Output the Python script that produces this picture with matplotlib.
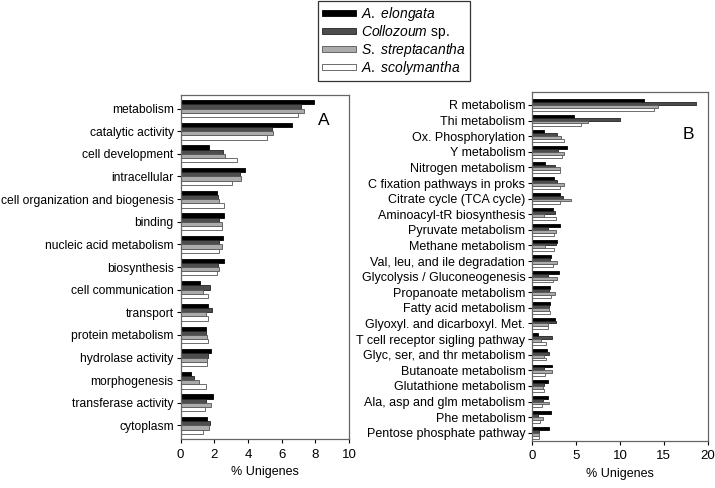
import numpy as np
import matplotlib
matplotlib.use("Agg")
import matplotlib.pyplot as plt

plt.rcParams['font.family'] = ['Liberation Sans', 'DejaVu Sans']
plt.rcParams['mathtext.fontset'] = 'custom'
plt.rcParams['mathtext.it'] = 'Liberation Sans:italic'
plt.rcParams['mathtext.rm'] = 'Liberation Sans'

species = [r"$\it{A.\ elongata}$", r"$\it{Collozoum}$ sp.",
           r"$\it{S.\ streptacantha}$", r"$\it{A.\ scolymantha}$"]
colors = ["#000000", "#4d4d4d", "#ababab", "#ffffff"]
edges = ["#000000", "#222222", "#555555", "#555555"]

cats_a = ["metabolism", "catalytic activity", "cell development", "intracellular",
          "cell organization and biogenesis", "binding", "nucleic acid metabolism",
          "biosynthesis", "cell communication", "transport", "protein metabolism",
          "hydrolase activity", "morphogenesis", "transferase activity", "cytoplasm"]
elongata_a = [7.9, 6.6, 1.7, 3.8, 2.15, 2.55, 2.5, 2.6, 1.15, 1.6, 1.5, 1.8, 0.6, 1.9, 1.55]
collozoum_a = [7.15, 5.4, 2.5, 3.55, 2.2, 2.25, 2.25, 2.2, 1.75, 1.85, 1.5, 1.65, 0.8, 1.5, 1.75]
strept_a = [7.3, 5.5, 2.65, 3.6, 2.3, 2.45, 2.45, 2.3, 1.35, 1.5, 1.55, 1.55, 1.1, 1.8, 1.7]
scoly_a = [7.0, 5.1, 3.35, 3.05, 2.55, 2.45, 2.25, 2.15, 1.65, 1.65, 1.6, 1.55, 1.5, 1.45, 1.35]

cats_b = ["R metabolism", "Thi metabolism", "Ox. Phosphorylation", "Y metabolism",
          "Nitrogen metabolism", "C fixation pathways in proks", "Citrate cycle (TCA cycle)",
          "Aminoacyl-tR biosynthesis", "Pyruvate metabolism", "Methane metabolism",
          "Val, leu, and ile degradation", "Glycolysis / Gluconeogenesis",
          "Propanoate metabolism", "Fatty acid metabolism", "Glyoxyl. and dicarboxyl. Met.",
          "T cell receptor sigling pathway", "Glyc, ser, and thr metabolism",
          "Butanoate metabolism", "Glutathione metabolism", "Ala, asp and glm metabolism",
          "Phe metabolism", "Pentose phosphate pathway"]
elongata_b = [12.7, 4.7, 1.3, 4.0, 1.5, 2.5, 3.2, 2.4, 3.1, 2.8, 2.15, 3.0,
              2.0, 2.0, 2.6, 0.7, 1.65, 2.3, 1.75, 1.75, 2.15, 1.9]
collozoum_b = [18.7, 10.0, 2.8, 2.9, 2.6, 2.8, 3.5, 2.6, 1.75, 2.65, 2.05, 1.8,
               1.95, 1.85, 2.7, 2.3, 1.85, 1.35, 1.35, 1.25, 0.6, 0.75]
strept_b = [14.3, 6.3, 3.3, 3.6, 3.2, 3.6, 4.4, 1.3, 2.75, 1.5, 2.85, 2.8,
            2.55, 1.9, 1.75, 0.95, 1.35, 2.3, 1.25, 1.95, 1.2, 0.8]
scoly_b = [13.9, 5.5, 3.6, 3.4, 3.2, 3.1, 3.1, 2.7, 2.45, 2.45, 2.4, 2.4,
           2.1, 2.0, 1.8, 1.6, 1.55, 1.45, 1.35, 1.05, 0.85, 0.8]


def panel(ax, cats, series, xmax, xstep, ylim, letter, lpos, lblsize):
    y = np.arange(len(cats))
    h = 0.185
    bars = []
    for i, vals in enumerate(series):
        b = ax.barh(y - 1.5 * h + i * h, vals, height=h, color=colors[i],
                    edgecolor=edges[i], linewidth=0.6, label=species[i])
        bars.append(b)
    ax.set_yticks(y)
    ax.set_yticklabels(cats, fontsize=lblsize)
    ax.set_ylim(*ylim)
    ax.set_xlim(0, xmax)
    ax.set_xticks(np.arange(0, xmax + 0.1, xstep))
    ax.tick_params(axis='x', labelsize=9.5, length=3, width=0.8)
    ax.tick_params(axis='y', length=3, width=0.8, pad=2)
    ax.set_xlabel("% Unigenes", fontsize=9)
    for s in ax.spines.values():
        s.set_color("#666666")
        s.set_linewidth(0.9)
    ax.text(lpos[0], lpos[1], letter, transform=ax.transAxes, fontsize=12.5,
            va='baseline')
    return bars


fig = plt.figure(figsize=(7.15, 4.88), dpi=100)
ax1 = fig.add_axes([0.2527, 0.0994, 0.2354, 0.7059])
ax2 = fig.add_axes([0.7445, 0.0963, 0.2453, 0.7158])

bars = panel(ax1, cats_a, [elongata_a, collozoum_a, strept_a, scoly_a],
             10, 2, (14.62, -0.6), "A", (0.816, 0.913), 8.7)
panel(ax2, cats_b, [elongata_b, collozoum_b, strept_b, scoly_b],
      20, 5, (21.53, -0.85), "B", (0.857, 0.864), 9.0)

leg = fig.legend(handles=bars, loc='upper left', bbox_to_anchor=(0.445, 0.9986),
                 fontsize=10, frameon=True, fancybox=False, edgecolor='black',
                 handlelength=2.45, handleheight=0.22, labelspacing=0.0,
                 borderpad=0.3, handletextpad=0.35, borderaxespad=0)
leg.get_frame().set_linewidth(0.9)

fig.savefig("out.png", dpi=100)
